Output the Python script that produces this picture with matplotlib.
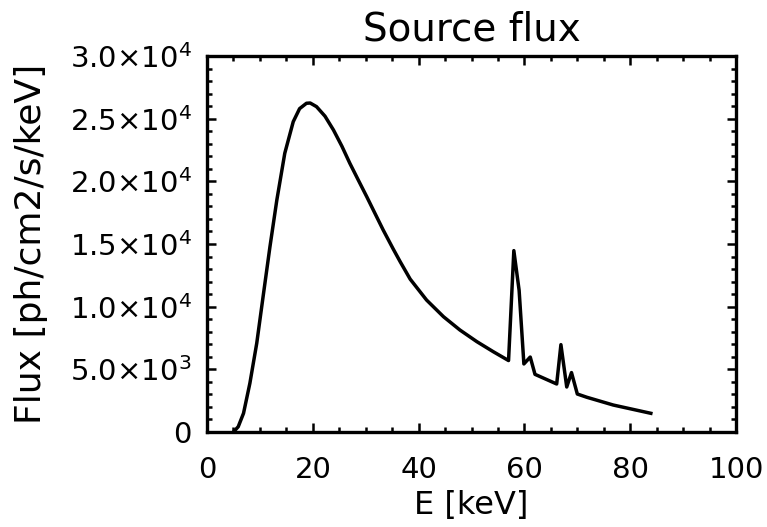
import matplotlib
matplotlib.use('Agg')
import matplotlib.pyplot as plt
import matplotlib.ticker as ticker

# photon energy [keV] and source flux [ph/cm2/s/keV]
energy = [5.0, 5.9, 6.9, 8.1, 9.4, 10.6, 11.9, 13.2, 14.7, 16.3, 17.5, 18.8,
          19.5, 20.7, 22.3, 23.9, 25.5, 27.0, 28.6, 30.2, 31.8, 33.3, 35.2,
          36.5, 38.4, 41.5, 44.7, 47.8, 51.0, 54.1, 57.0, 58.0, 59.0, 59.9,
          61.1, 62.0, 66.1, 66.9, 68.0, 68.9, 70.0, 71.8, 76.8, 83.9]
flux = [0, 420, 1490, 3880, 7080, 10800, 14790, 18510, 22240, 24760, 25800, 26230,
        26250, 25960, 25200, 24100, 22800, 21440, 20100, 18770, 17400, 16120, 14600,
        13600, 12200, 10530, 9200, 8140, 7210, 6410, 5700, 14470, 11300, 5430,
        5980, 4600, 3830, 6970, 3590, 4740, 3030, 2770, 2150, 1490]

y_ticks = [0, 5000, 10000, 15000, 20000, 25000, 30000]
y_labels = ['0', r'$5.0{\times}10^{3}$', r'$1.0{\times}10^{4}$', r'$1.5{\times}10^{4}$',
            r'$2.0{\times}10^{4}$', r'$2.5{\times}10^{4}$', r'$3.0{\times}10^{4}$']

plt.rcParams['font.family'] = ['DejaVu Sans']
plt.rcParams['mathtext.fontset'] = 'dejavusans'
plt.rcParams['mathtext.default'] = 'regular'

fig = plt.figure(figsize=(7.67, 5.27), dpi=100)
ax = fig.add_axes([0.2699, 0.1803, 0.6897, 0.7134])

ax.plot(energy, flux, color='black', linewidth=2.5)

ax.set_xlim(0, 100)
ax.set_ylim(0, 30000)
ax.set_xticks([0, 20, 40, 60, 80, 100])
ax.xaxis.set_minor_locator(ticker.MultipleLocator(5))
ax.set_yticks(y_ticks)
ax.set_yticklabels(y_labels)
ax.yaxis.set_minor_locator(ticker.MultipleLocator(1000))

ax.tick_params(which='both', direction='in', top=True, right=True, width=1.8,
               labelsize=21)
ax.tick_params(which='major', length=6.5)
ax.tick_params(which='minor', length=3.3)
ax.tick_params(axis='x', pad=17)
ax.tick_params(axis='y', pad=11)
for s in ax.spines.values():
    s.set_linewidth(2.4)

ax.set_xlabel('E [keV]', fontsize=23)
ax.xaxis.set_label_coords(0.5, -0.155)
ax.set_ylabel('Flux [ph/cm2/s/keV]', fontsize=26)
ax.yaxis.set_label_coords(-0.30, 0.5)
ax.set_title('Source flux', fontsize=28, pad=11)

fig.savefig('out.png', dpi=100)
